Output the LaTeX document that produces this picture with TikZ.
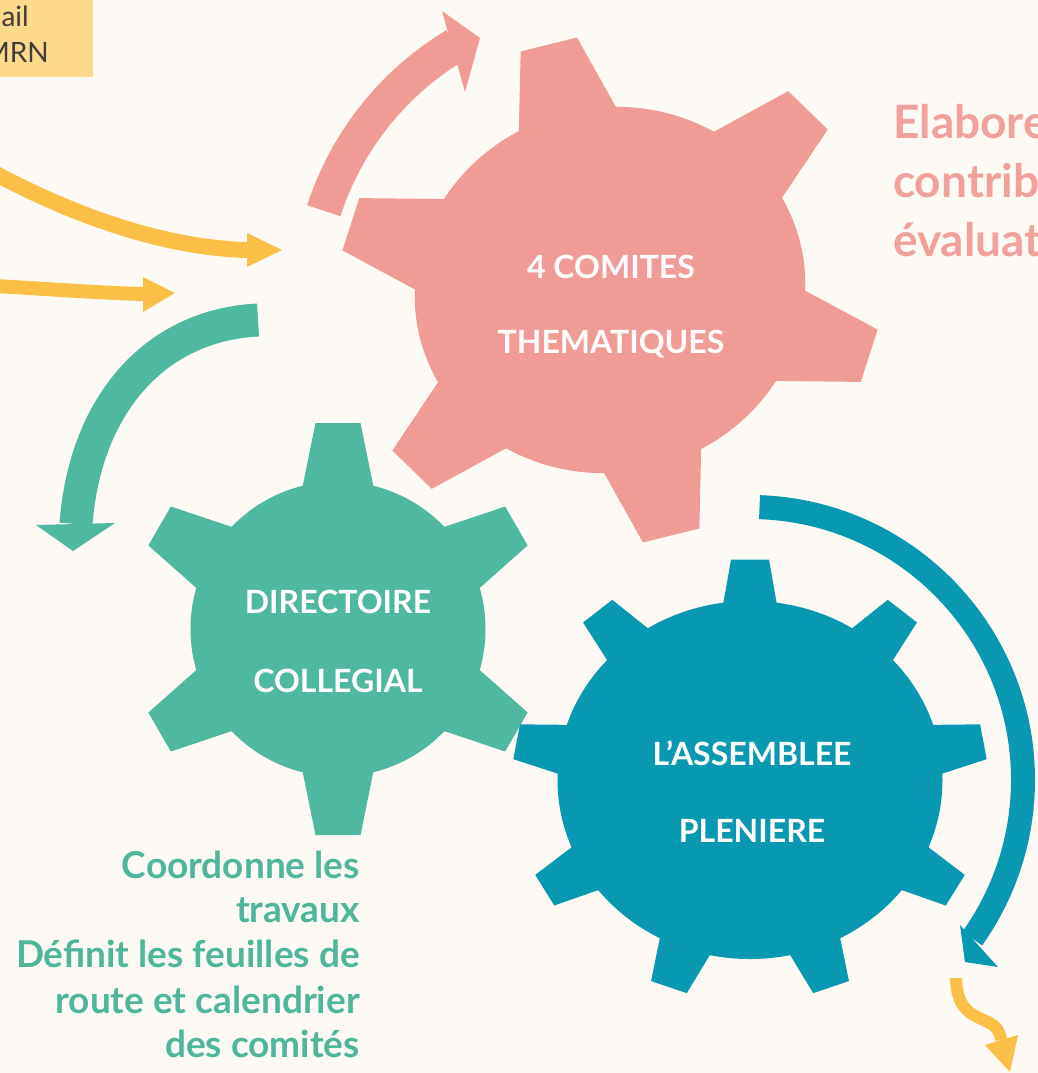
\documentclass[tikz,border=0pt]{standalone}
\usepackage{fontspec}
\setmainfont{Lato}
\definecolor{bgc}{RGB}{253,249,244}
\definecolor{pinkc}{RGB}{241,155,150}
\definecolor{pinktext}{RGB}{242,160,155}
\definecolor{greenc}{RGB}{79,184,160}
\definecolor{greentext}{RGB}{78,182,156}
\definecolor{bluec}{RGB}{8,152,177}
\definecolor{yelc}{RGB}{251,191,72}
\definecolor{boxc}{RGB}{253,217,139}
\definecolor{boxtext}{RGB}{64,60,56}

\newcommand{\gearteeth}[6]{%
  \foreach \k in {1,...,#1}{%
    \fill[rotate={#2+360/#1*(\k-1)}] (#3,-#4) -- (#5,-#6) -- (#5,#6) -- (#3,#4) -- cycle;
  }}

\tikzset{
  gearlabel/.style={text=white, font=\bfseries\fontsize{32}{38}\selectfont, inner sep=0pt, anchor=base},
  desctext/.style={text=greentext, font=\bfseries\fontsize{37}{44}\selectfont, inner sep=0pt, anchor=base east},
  elabtext/.style={text=pinktext, font=\bfseries\fontsize{46}{55}\selectfont, inner sep=0pt, anchor=base west},
  boxlabel/.style={text=boxtext, font=\fontsize{28}{34}\selectfont, inner sep=0pt, anchor=base east},
}

\begin{document}
\begin{tikzpicture}[x=1pt,y=1pt]
\useasboundingbox (0,0) rectangle (1038,-1073);
\fill[bgc] (0,0) rectangle (1038,-1073);
\begin{scope}
\clip (0,0) rectangle (1038,-1073);

% coordinates of gear centres
\coordinate (pc) at (610,-290);
\coordinate (pa) at (611,-304);
\coordinate (gc) at (338,-629);
\coordinate (bc) at (750,-780);

% top-left box
\fill[boxc] (0,0) rectangle (93,-77);
\node[boxlabel] (boxa) at (29,-27) {ail};
\node[boxlabel] (boxb) at (49,-63) {MRN};

% yellow arrows on the left
\draw[yelc, line width=16] (-15,-168) .. controls (65,-212) and (160,-248) .. (248,-250);
\fill[yelc] (247,-233) -- (282,-250) -- (247,-267) -- cycle;
\draw[yelc, line width=14] (-5,-286) .. controls (50,-289) and (100,-293) .. (144,-294);
\fill[yelc] (143,-277) -- (175,-293) -- (143,-312) -- cycle;

% pink arrow
\draw[pinkc, line width=35] ([shift={(162:302)}]pa) arc[start angle=162, end angle=121, radius=302];
\fill[pinkc] (442,-11) -- (480,-38) -- (465,-92) -- cycle;

% green arrow
\draw[greenc, line width=33] (258,-320) .. controls (155,-325) and (85,-405) .. (76,-524);
\fill[greenc] (36,-525) -- (73,-551) -- (115,-523) -- cycle;

% pink gear
\begin{scope}[shift={(pc)}, rotate=14, yscale=0.93, color=pinkc]
  \fill (0,0) circle (196);
  \gearteeth{6}{90}{170}{55}{272}{29}
\end{scope}

% green gear
\begin{scope}[shift={(gc)}, color=greenc]
  \fill (0,0) circle (147.5);
  \gearteeth{6}{90}{125}{39}{206}{22.5}
\end{scope}

% blue gear
\begin{scope}[shift={(bc)}, yscale=0.93, color=bluec]
  \fill (0,0) circle (192.5);
  \gearteeth{9}{90}{170}{30}{237}{19}
\end{scope}

% blue arrow
\draw[bluec, line width=24] ([shift={(88:273)}]bc) arc[start angle=88, end angle=-35.5, radius=273];
\fill[bluec] (960,-925) -- (965,-962) -- (998,-967) -- cycle;

% small yellow arrow
\draw[yelc, line width=12] (956,-978) .. controls (957,-1030) and (998,-1010) .. (1001,-1040);
\fill[yelc] (985,-1045) -- (1010,-1072) -- (1018,-1035) -- cycle;

% gear labels
\node[gearlabel] (p1) at (611,-278) {4 COMITES};
\node[gearlabel] (p2) at (611,-353) {THEMATIQUES};
\node[gearlabel] (g1) at (338,-613) {DIRECTOIRE};
\node[gearlabel] (g2) at (338,-692) {COLLEGIAL};
\node[gearlabel] (b1) at (752,-765) {L’ASSEMBLEE};
\node[gearlabel] (b2) at (752,-842) {PLENIERE};

% right text (cut by the picture edge)
\node[elabtext] (e1) at (893,-138) {Elabore};
\node[elabtext] (e2) at (893,-197) {contrib};
\node[elabtext] (e3) at (893,-256) {évaluat};

% green description
\node[desctext] (d1) at (360,-878) {Coordonne les};
\node[desctext] (d2) at (360,-922) {travaux};
\node[desctext] (d3) at (360,-967) {Définit les feuilles de};
\node[desctext] (d4) at (360,-1013) {route et calendrier};
\node[desctext] (d5) at (360,-1057) {des comités};
\end{scope}
\end{tikzpicture}
\end{document}
